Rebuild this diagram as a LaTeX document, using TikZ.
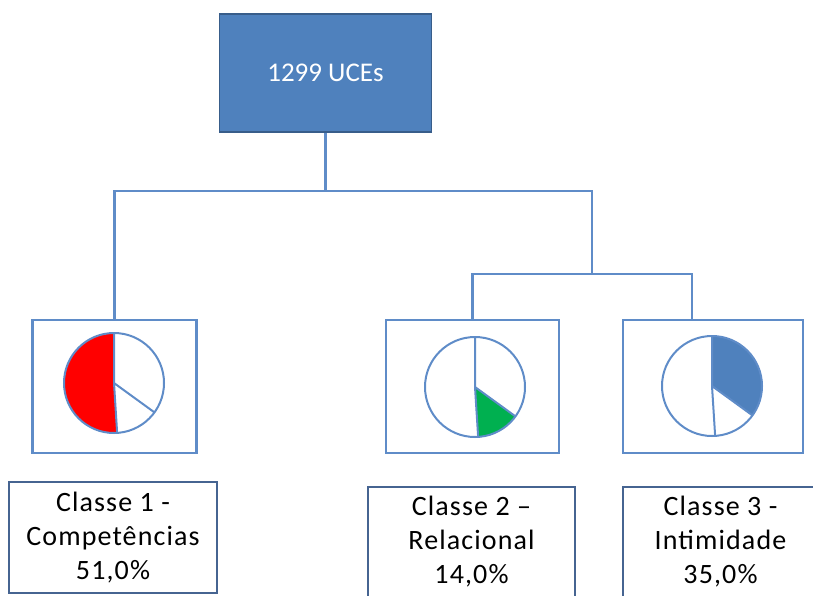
\documentclass[tikz,border=0pt]{standalone}
\usepackage{fontspec}
\setmainfont{Carlito}
\usetikzlibrary{calc}
\definecolor{boxblue}{RGB}{79,129,189}
\definecolor{boxedge}{RGB}{56,93,138}
\definecolor{linkblue}{RGB}{95,140,200}
\definecolor{labeledge}{RGB}{70,100,145}
\definecolor{piegreen}{RGB}{0,176,80}
\definecolor{piered}{RGB}{255,0,0}
\begin{document}
\begin{tikzpicture}[x=1pt,y=-1pt,
  topbox/.style={draw=boxedge,line width=1.5pt,fill=boxblue,minimum width=212pt,minimum height=118pt,inner sep=0pt,text=white,font=\fontsize{27}{30}\selectfont},
  piebox/.style={draw=linkblue,line width=2.2pt,minimum height=133pt,inner sep=0pt},
  labelbox/.style={draw=labeledge,line width=2.2pt,minimum height=111pt,inner sep=0pt,align=center,
     font=\addfontfeature{LetterSpace=4}\fontsize{28}{34}\selectfont},
  link/.style={draw=linkblue,line width=2.2pt},
  pieline/.style={draw=linkblue,line width=2pt}]
\useasboundingbox (0,0) rectangle (813,595);
\clip (0,0) rectangle (813,595);
\node[topbox] (top) at (325.5,73) {1299 UCEs};
\node[piebox,minimum width=164pt] (p1) at (114.5,386.5) {};
\node[piebox,minimum width=173pt] (p2) at (472.5,386.5) {};
\node[piebox,minimum width=180pt] (p3) at (713,386.5) {};
\node[labelbox,minimum width=208pt] (l1) at (113,537.5) {Classe 1 -\\Competências\\51,0\%};
\node[labelbox,minimum width=207pt,minimum height=110pt] (l2) at (471.5,542) {Classe 2 –\\Relacional\\14,0\%};
\node[labelbox,minimum width=195pt,minimum height=110pt] (l3) at (720.5,542) {Classe 3 -\\Intimidade\\35,0\%};
\coordinate (h1) at (325.5,191);
\coordinate (h2) at (592,274);
\coordinate (d3) at ($(p3.north)+(-21,0)$);
\draw[link] (top.south) -- (h1);
\draw[link] (p1.north) |- (h1) -| (h2);
\draw[link] (p2.north) |- (h2) -| (d3);
% pie 1
\begin{scope}[shift={(114,383)},yscale=-1]
  \fill[piered] (0,0) -- (90:50) arc[start angle=90,end angle=273.6,radius=50] -- cycle;
  \draw[pieline] (0,0) circle[radius=50];
  \draw[pieline] (90:50) -- (0,0) -- (273.6:50) (0,0) -- (324:50);
\end{scope}
% pie 2
\begin{scope}[shift={(475,387)},yscale=-1]
  \fill[piegreen] (0,0) -- (273.6:50) arc[start angle=273.6,end angle=324,radius=50] -- cycle;
  \draw[pieline] (0,0) circle[radius=50];
  \draw[pieline] (90:50) -- (0,0) -- (273.6:50) (0,0) -- (324:50);
\end{scope}
% pie 3
\begin{scope}[shift={(712,386)},yscale=-1]
  \fill[boxblue] (0,0) -- (-36:50) arc[start angle=-36,end angle=90,radius=50] -- cycle;
  \draw[pieline] (0,0) circle[radius=50];
  \draw[pieline] (90:50) -- (0,0) -- (273.6:50) (0,0) -- (324:50);
\end{scope}
\end{tikzpicture}
\end{document}
